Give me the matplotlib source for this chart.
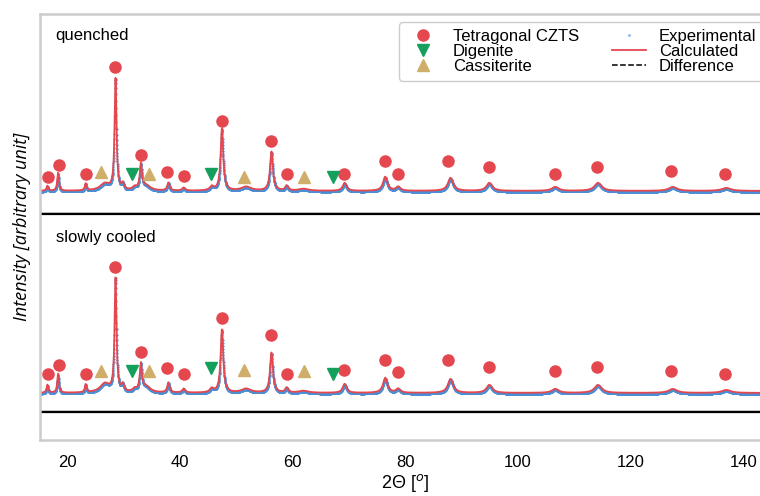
import numpy as np
import matplotlib.pyplot as plt

# peak list (2theta in deg, height in arb. units, fwhm in deg)
peak_pos = [16.4, 18.3, 23.2, 26.6, 28.5, 29.8, 31.9, 33.0, 33.9, 37.9, 40.6, 45.6,
            47.4, 51.7, 56.2, 58.9, 61.9, 69.2, 76.4, 78.7, 88.0, 94.9, 106.6,
            114.2, 127.5, 137.0]
peak_fwhm = [0.35, 0.35, 0.35, 2.0, 0.4, 0.5, 0.8, 0.45, 1.8, 0.5, 0.6, 0.8, 0.55,
             2.0, 0.6, 0.6, 2.0, 0.8, 0.9, 0.9, 1.1, 1.2, 1.4, 1.5, 1.7, 1.9]
h_quenched = [5, 18, 7, 7, 111, 6, 3, 25, 5, 8, 3, 4, 62, 4, 39, 5, 2, 8, 14, 4,
              13, 8, 4, 8, 4, 3]
h_slow = [8, 19, 8, 9, 113, 7, 3, 27, 6, 10, 4, 4, 63, 4, 40, 5, 2, 9, 15, 4,
          14, 8, 4, 8, 4, 3]

# phase markers
czts_pos = [16.45, 18.4, 23.2, 28.4, 33.0, 37.6, 40.6, 47.35, 56.2, 58.9, 69.0,
            76.45, 78.6, 87.6, 94.9, 106.5, 114.1, 127.2, 136.8]
czts_mark_q = [14, 26, 17, 124, 36, 19, 15, 70, 50, 17, 17, 30, 17, 30, 24, 17,
               24, 20, 17]
czts_mark_s = [19, 28, 19, 126, 41, 25, 19, 75, 58, 19, 23, 33, 21, 33, 26, 22,
               26, 22, 19]
dig_pos = [31.4, 45.5, 67.2]
dig_mark_q = [17, 17, 14]
dig_mark_s = [22, 25, 19]
cass_pos = [26.0, 34.4, 51.4, 61.9]
cass_mark_q = [19, 17, 14, 14]
cass_mark_s = [22, 22, 23, 22]

# vertical offsets of the two patterns and difference curves
base_q, diff_q = 249, 226
base_s, diff_s = 47, 28

tt = np.arange(15, 145, 0.02)

def profile(heights):
    y = np.zeros_like(tt)
    for p, h, w in zip(peak_pos, heights, peak_fwhm):
        y += h / (1 + ((tt - p) / (w / 2)) ** 2)
    return y

calc_q = profile(h_quenched)
calc_s = profile(h_slow)
exp_q = calc_q - 1.0
exp_s = calc_s - 1.0

red = '#e5474f'
green = '#14a05c'
tan = '#cfae6a'
blue = '#4a8fd6'

fig = plt.figure(figsize=(7.6, 4.96), dpi=100)
ax = fig.add_axes([0.052, 0.113, 0.963, 0.859])

for base, dff, exp, calc, mc, md, mk in [
        (base_q, diff_q, exp_q, calc_q, czts_mark_q, dig_mark_q, cass_mark_q),
        (base_s, diff_s, exp_s, calc_s, czts_mark_s, dig_mark_s, cass_mark_s)]:
    ax.plot(tt, exp + base, '.', ms=3.2, color=blue, mew=0)
    ax.plot(tt, calc + base, color=red, lw=1.3)
    ax.plot(tt, exp - calc + 1.0 + dff, color='black', lw=1.7)
    ax.plot(czts_pos, np.array(mc) + base, 'o', ms=8, color=red, ls='none')
    ax.plot(dig_pos, np.array(md) + base, 'v', ms=8.5, color=green, ls='none')
    ax.plot(cass_pos, np.array(mk) + base, '^', ms=8.5, color=tan, ls='none')

# legend handles
ax.plot([], [], 'o', ms=8, color=red, label='Tetragonal CZTS')
ax.plot([], [], 'v', ms=8.5, color=green, label='Digenite')
ax.plot([], [], '^', ms=8.5, color=tan, label='Cassiterite')
ax.plot([], [], '.', ms=2.5, color='#9cc3ea', label='Experimental')
ax.plot([], [], color=red, lw=1.3, label='Calculated')
ax.plot([], [], '--', color='black', lw=1.1, label='Difference')
handles, labels = ax.get_legend_handles_labels()
handles, labels = handles[-6:], labels[-6:]
leg = ax.legend(handles, labels, ncol=2, loc='upper right',
                prop={'family': 'Liberation Sans', 'size': 12},
                labelspacing=0, handlelength=2, handletextpad=0.8,
                columnspacing=2, borderpad=0.4, borderaxespad=0.5,
                fancybox=True, framealpha=1)
leg.get_frame().set_edgecolor('#cccccc')

ax.text(0.022, 0.95, 'quenched', transform=ax.transAxes, fontsize=12,
        family='Liberation Sans', va='center')
ax.text(0.022, 0.475, 'slowly cooled', transform=ax.transAxes, fontsize=12,
        family='Liberation Sans', va='center')

ax.set_xlim(15, 145)
ax.set_ylim(0, 426)
ax.set_xticks([20, 40, 60, 80, 100, 120, 140])
ax.set_yticks([])
ax.tick_params(axis='x', length=0, pad=11, labelsize=12)
for lab in ax.get_xticklabels():
    lab.set_family('Liberation Sans')
for s in ax.spines.values():
    s.set_color('#cccccc')
    s.set_linewidth(1.8)

ax.set_xlabel('2Θ [$^o$]', family='Liberation Sans', fontsize=13, labelpad=1)
ax.set_ylabel('Intensity [arbitrary unit]', family='Open Sans', style='italic',
              fontsize=13, labelpad=6)

plt.savefig('out.png', dpi=100)
